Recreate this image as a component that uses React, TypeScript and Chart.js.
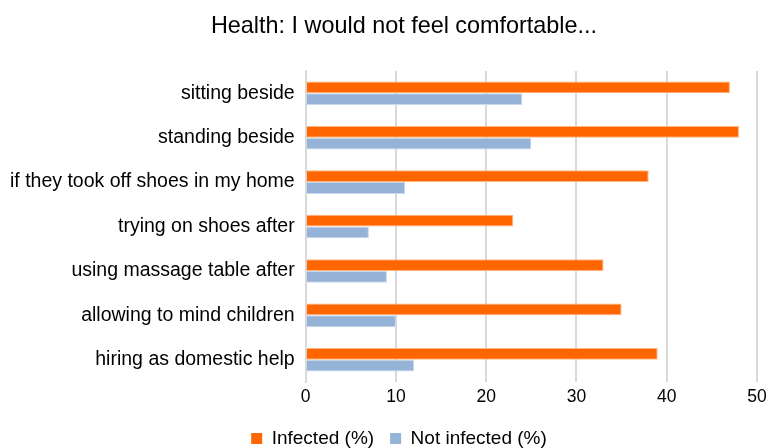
import React, { useEffect, useRef } from "react";
import { Chart, registerables } from "chart.js";

Chart.register(...registerables);

const categories = [
  "sitting beside",
  "standing beside",
  "if they took off shoes in my home",
  "trying on shoes after",
  "using massage table after",
  "allowing to mind children",
  "hiring as domestic help",
];
const infected = [47, 48, 38, 23, 33, 35, 39];
const notInfected = [24, 25, 11, 7, 9, 10, 12];
const xTicks = [0, 10, 20, 30, 40, 50];

const blockShift = {
  id: "blockShift",
  beforeDraw(chart: any) {
    const lg = chart.legend;
    if (lg && !lg._shifted) {
      lg.left += 15;
      lg.right += 15;
      lg._shifted = true;
    }
    const tb = chart.titleBlock;
    if (tb && !tb._shifted) {
      tb.left += 20;
      tb.right += 20;
      tb._shifted = true;
    }
  },
};

export default function App() {
  const ref = useRef<HTMLCanvasElement | null>(null);
  useEffect(() => {
    document.body.style.margin = "0";
    const font = "'Liberation Sans', Arial, Helvetica, sans-serif";
    const chart = new Chart(ref.current!, {
      type: "bar",
      data: {
        labels: categories,
        datasets: [
          {
            label: "Infected (%)",
            data: infected,
            backgroundColor: "#FF6600",
            borderColor: "#FFB380",
            borderWidth: 1,
            categoryPercentage: 0.53,
            barPercentage: 1,
          },
          {
            label: "Not infected (%)",
            data: notInfected,
            backgroundColor: "#95B3D7",
            borderColor: "#C9D9EB",
            borderWidth: 1,
            categoryPercentage: 0.53,
            barPercentage: 1,
          },
        ],
      },
      plugins: [blockShift],
      options: {
        indexAxis: "y",
        animation: false,
        responsive: false,
        maintainAspectRatio: false,
        layout: { padding: { left: -1, right: 0, top: 0, bottom: -10 } },
        plugins: {
          title: {
            display: true,
            text: "Health: I would not feel comfortable...",
            color: "#000",
            font: { family: font, size: 23.4, weight: "normal" },
            padding: { top: 13, bottom: 30 },
          },
          legend: {
            position: "bottom",
            labels: {
              color: "#000",
              font: { family: font, size: 19 },
              boxWidth: 11,
              boxHeight: 11,
              padding: 16,
              generateLabels: (c: any) =>
                c.data.datasets.map((d: any, i: number) => ({
                  text: d.label,
                  fillStyle: d.backgroundColor,
                  strokeStyle: d.backgroundColor,
                  lineWidth: 0,
                  hidden: false,
                  datasetIndex: i,
                  fontColor: "#000",
                })),
            },
          },
          tooltip: { enabled: false },
        },
        scales: {
          x: {
            min: 0,
            max: 50,
            afterBuildTicks: (axis: any) => {
              axis.ticks = xTicks.map((v) => ({ value: v }));
            },
            afterFit: (axis: any) => {
              axis.paddingRight = 12;
            },
            grid: { color: "#D9D9D9", lineWidth: 2, drawTicks: false },
            border: { display: false },
            ticks: {
              color: "#000",
              font: { family: font, size: 17.5 },
              padding: 5,
            },
          },
          y: {
            grid: { display: false, drawTicks: false },
            border: { display: true, color: "#D9D9D9", width: 2 },
            ticks: {
              color: "#000",
              font: { family: font, size: 19.5 },
              padding: 11,
            },
          },
        },
      },
    });
    return () => chart.destroy();
  }, []);
  return (
    <div style={{ width: 769, height: 448 }}>
      <canvas ref={ref} width={769} height={448} />
    </div>
  );
}
